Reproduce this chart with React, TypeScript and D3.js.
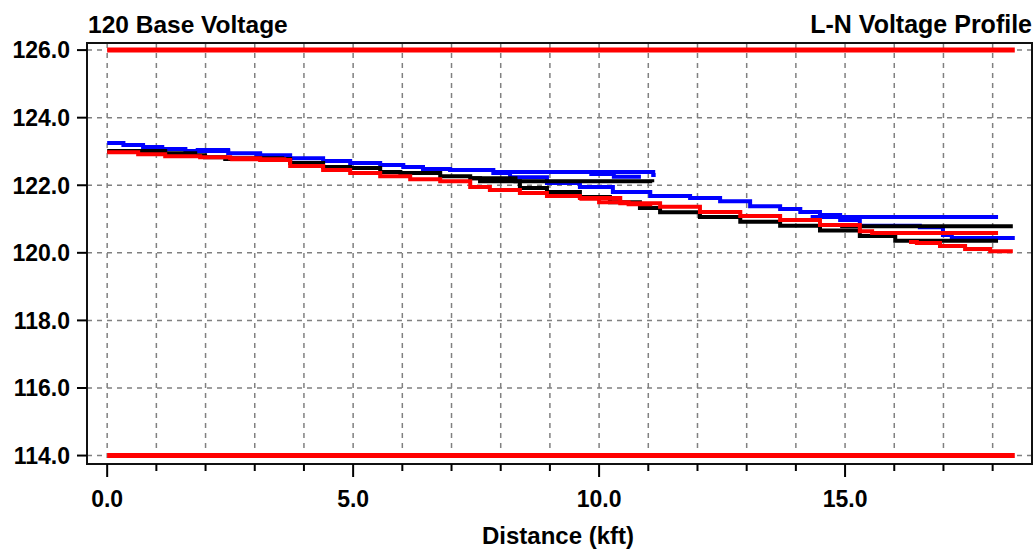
import React, { useEffect } from 'react';
import * as d3 from 'd3';

type Pt = [number, number];

// ---- axis ticks ----
const xMajorTicks = [0, 5, 10, 15];
const xMinorTicks = [0, 1, 2, 3, 4, 5, 6, 7, 8, 9, 10, 11, 12, 13, 14, 15, 16, 17, 18];
const yTicks = [114, 116, 118, 120, 122, 124, 126];

// ---- limit lines (V) ----
const limitVoltages = [126, 114];
const limitExtent: [number, number] = [0, 18.45];

// ---- phase A (blue) ----
const blueTrunk: Pt[] = [
  [0, 123.25], [0.33, 123.19], [0.73, 123.13], [1.12, 123.07], [1.59, 123.01], [2.46, 122.95],
  [3.11, 122.89], [3.72, 122.8], [4.39, 122.72], [4.94, 122.66], [5.55, 122.6], [6.02, 122.54],
  [6.42, 122.48], [6.97, 122.45], [7.85, 122.36], [8.19, 122.24], [8.94, 122.07], [9.61, 121.95],
  [10.28, 121.8], [11.04, 121.68], [11.85, 121.62], [12.46, 121.53], [13.07, 121.38], [13.68, 121.3],
  [14.09, 121.21], [14.49, 121.12], [14.9, 120.97], [15.3, 120.8], [16.52, 120.76], [16.99, 120.53],
  [17.17, 120.44], [18.45, 120.44],
];
const blueBranch11: Pt[] = [[7.85, 122.39], [10.9, 122.39], [11.1, 122.3], [11.15, 122.3]];
const blueSpur11: Pt[] = [[9.8, 122.33], [10.3, 122.25], [10.85, 122.25]];
const blueBranchRight: Pt[] = [[14.3, 121.06], [18.11, 121.06]];
const blueSpur1: Pt[] = [[1.8, 123.04], [2.5, 123.04]];
const blueSpur2: Pt[] = [[3.0, 122.86], [3.75, 122.86]];

// ---- phase B (black) ----
const blackTrunk: Pt[] = [
  [0, 123.01], [1.18, 122.95], [1.79, 122.89], [1.99, 122.83], [2.4, 122.78], [3.72, 122.66],
  [4.39, 122.54], [4.94, 122.51], [5.55, 122.39], [5.96, 122.36], [6.77, 122.27], [7.38, 122.21],
  [7.58, 122.12], [8.39, 121.92], [8.94, 121.8], [9.61, 121.65], [10.22, 121.5], [10.83, 121.33],
  [11.24, 121.2], [12.05, 121.06], [12.87, 120.92], [13.68, 120.8], [14.49, 120.66], [15.3, 120.5],
  [16.02, 120.36], [18.11, 120.36],
];
const blackBranch11: Pt[] = [[7.38, 122.21], [8.3, 122.12], [11.08, 122.09]];
const blackBranchRight: Pt[] = [[14.9, 120.79], [18.41, 120.79]];
const blackSpur1: Pt[] = [[2.4, 122.8], [3.6, 122.8]];

// ---- phase C (red) ----
const redTrunk: Pt[] = [
  [0, 122.98], [0.63, 122.92], [1.18, 122.86], [1.89, 122.83], [2.5, 122.8], [3.11, 122.75],
  [3.72, 122.57], [4.39, 122.45], [4.94, 122.36], [5.55, 122.27], [6.16, 122.18], [6.77, 122.12],
  [7.38, 121.95], [7.78, 121.86], [8.39, 121.77], [8.94, 121.68], [9.61, 121.62], [10.43, 121.47],
  [11.24, 121.36], [12.05, 121.21], [12.87, 121.09], [13.68, 120.97], [14.49, 120.82], [15.3, 120.64],
  [15.55, 120.59], [18.11, 120.59],
];
const redBranch11: Pt[] = [[9.6, 121.6], [10.0, 121.5], [10.6, 121.44], [11.08, 121.44]];
const redBranchLow: Pt[] = [[16.3, 120.32], [16.46, 120.29], [16.93, 120.2], [17.44, 120.11], [17.95, 120.05], [18.41, 120.05]];
const redSpur1: Pt[] = [[2.5, 122.77], [3.6, 122.72]];

const blueSeries = [blueTrunk, blueBranch11, blueSpur11, blueBranchRight, blueSpur1, blueSpur2];
const blackSeries = [blackTrunk, blackBranch11, blackBranchRight, blackSpur1];
const redSeries = [redTrunk, redBranch11, redBranchLow, redSpur1];

const W = 1036;
const H = 552;
const M = { left: 87, top: 43, right: 1032, bottom: 464 };
const FONT = '"Liberation Sans", Arial, sans-serif';

export default function App() {
  useEffect(() => {
    document.body.style.margin = '0';
  }, []);

  const x = d3.scaleLinear().domain([-0.41, 18.8]).range([M.left, M.right]);
  const y = d3.scaleLinear().domain([113.75, 126.21]).range([M.bottom, M.top]);
  const line = d3
    .line<Pt>()
    .x((d) => x(d[0]))
    .y((d) => y(d[1]))
    .curve(d3.curveStepAfter);
  const fmt = d3.format('.1f');

  const groups: { color: string; series: Pt[][] }[] = [
    { color: '#0000ff', series: blueSeries },
    { color: '#000000', series: blackSeries },
    { color: '#ff0000', series: redSeries },
  ];

  return (
    <svg width={W} height={H} style={{ position: 'absolute', left: 0, top: 0, background: '#fff' }}>
      <rect x={0} y={0} width={W} height={H} fill="#fff" />
      {/* grid */}
      <g stroke="#808080" strokeWidth={1.5} strokeDasharray="5,5">
        {yTicks.map((t) => (
          <line key={'hy' + t} x1={M.left} x2={M.right} y1={y(t)} y2={y(t)} />
        ))}
        {xMinorTicks.map((t) => (
          <line key={'vx' + t} x1={x(t)} x2={x(t)} y1={M.top} y2={M.bottom} />
        ))}
      </g>
      {/* limit lines */}
      {limitVoltages.map((v) => (
        <line
          key={'lim' + v}
          x1={x(limitExtent[0])}
          x2={x(limitExtent[1])}
          y1={y(v)}
          y2={y(v)}
          stroke="#ff0000"
          strokeWidth={5}
        />
      ))}
      {/* profile lines */}
      {groups.map((g) =>
        g.series.map((s, i) => (
          <path key={g.color + i} d={line(s) || ''} fill="none" stroke={g.color} strokeWidth={4} />
        ))
      )}
      {/* frame */}
      <rect
        x={M.left}
        y={M.top}
        width={M.right - M.left}
        height={M.bottom - M.top}
        fill="none"
        stroke="#111"
        strokeWidth={2}
      />
      {/* axes and text */}
      <g fontFamily={FONT} fontWeight="bold" fill="#000">
        {yTicks.map((t) => (
          <g key={'yt' + t}>
            <line x1={M.left - 10} x2={M.left} y1={y(t)} y2={y(t)} stroke="#000" strokeWidth={2} />
            <text x={70} y={y(t)} dy="0.36em" textAnchor="end" fontSize={23}>
              {fmt(t)}
            </text>
          </g>
        ))}
        {xMinorTicks.map((t) => (
          <line
            key={'xm' + t}
            x1={x(t)}
            x2={x(t)}
            y1={M.bottom}
            y2={M.bottom + (xMajorTicks.includes(t) ? 13 : 7)}
            stroke="#000"
            strokeWidth={2}
          />
        ))}
        {xMajorTicks.map((t) => (
          <text key={'xt' + t} x={x(t)} y={507} textAnchor="middle" fontSize={23}>
            {fmt(t)}
          </text>
        ))}
        <text x={558} y={544} textAnchor="middle" fontSize={24}>
          Distance (kft)
        </text>
        <text x={88} y={33} textAnchor="start" fontSize={24.5}>
          120 Base Voltage
        </text>
        <text x={1032} y={33} textAnchor="end" fontSize={25}>
          L-N Voltage Profile
        </text>
      </g>
    </svg>
  );
}
